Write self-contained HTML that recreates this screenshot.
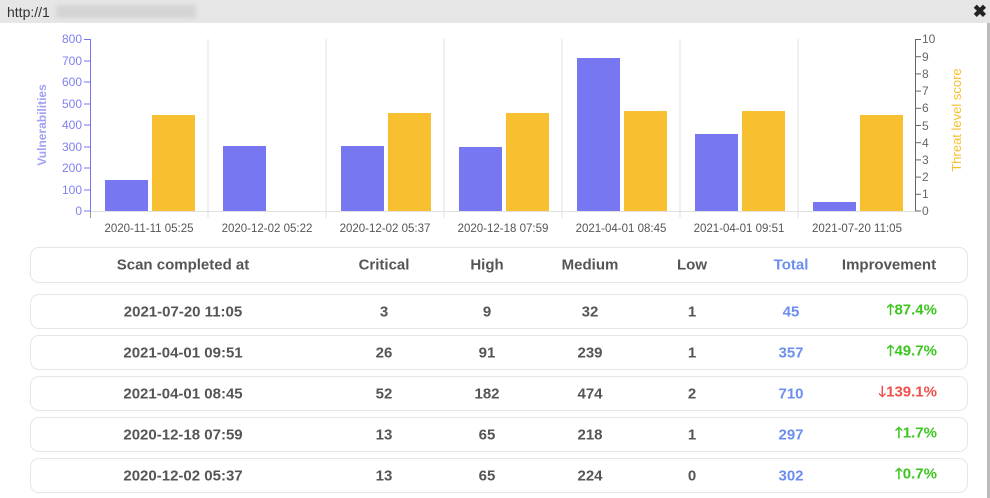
<!DOCTYPE html>
<html><head><meta charset="utf-8"><style>
body{margin:0;width:990px;height:498px;overflow:hidden;background:#fff;font-family:"Liberation Sans",Arial,sans-serif;position:relative}
.bar{position:absolute;left:0;top:0;width:990px;height:23px;background:#e6e6e6}
.url{position:absolute;left:7px;top:4px;font-size:14px;color:#333}
.blur{position:absolute;left:56px;top:5px;width:140px;height:13px;background:#d4d4d4;filter:blur(2px)}
.x{position:absolute;right:3px;top:2px;font-size:17px;font-weight:bold;color:#222}
.edge{position:absolute;right:0;top:23px;width:3px;height:475px;background:#bbb}
.card{position:absolute;left:30px;width:938px;border:1px solid #e6e6e6;border-radius:9px;box-sizing:border-box;font-weight:bold;color:#555;font-size:15px}
.card span{position:absolute;top:50%;transform:translate(-50%,-50%);white-space:nowrap}
.t{color:#6b8ef0}
.g{color:#3cc51e}.r{color:#f0504a}
.imp{transform:translateY(-50%)!important;right:30px;left:auto!important}
</style></head><body>
<div class="bar"><div class="url">http://1</div><div class="blur"></div><div class="x">✖</div></div>
<div class="edge"></div>
<svg style="position:absolute;left:0;top:0" width="990" height="240" font-family="Liberation Sans,Arial,sans-serif" font-size="11">
<g stroke="#e0e0e0"><line x1="208" y1="39" x2="208" y2="218"/><line x1="326" y1="39" x2="326" y2="218"/><line x1="444" y1="39" x2="444" y2="218"/><line x1="562" y1="39" x2="562" y2="218"/><line x1="680" y1="39" x2="680" y2="218"/><line x1="798" y1="39" x2="798" y2="218"/><line x1="90" y1="211.5" x2="915" y2="211.5"/></g>
<line x1="90.5" y1="39" x2="90.5" y2="211" stroke="#7474f0"/>
<line x1="90.5" y1="211" x2="90.5" y2="218" stroke="#999"/>
<line x1="915.5" y1="39" x2="915.5" y2="211" stroke="#666"/>
<g stroke="#7474f0"><line x1="84" x2="90" y1="39.5" y2="39.5"/><line x1="84" x2="90" y1="61" y2="61"/><line x1="84" x2="90" y1="82" y2="82"/><line x1="84" x2="90" y1="104" y2="104"/><line x1="84" x2="90" y1="125" y2="125"/><line x1="84" x2="90" y1="147" y2="147"/><line x1="84" x2="90" y1="168" y2="168"/><line x1="84" x2="90" y1="190" y2="190"/><line x1="84" x2="90" y1="211" y2="211"/></g>
<g fill="#8080f0" text-anchor="end" font-size="12"><text x="82" y="43">800</text><text x="82" y="65">700</text><text x="82" y="86">600</text><text x="82" y="108">500</text><text x="82" y="129">400</text><text x="82" y="151">300</text><text x="82" y="172">200</text><text x="82" y="194">100</text><text x="82" y="215">0</text></g>
<text transform="translate(46,125) rotate(-90)" text-anchor="middle" fill="#a0a0f5" font-size="12" font-weight="bold">Vulnerabilities</text>
<g stroke="#666"><line x1="915" x2="921" y1="39.5" y2="39.5"/><line x1="915" x2="921" y1="56.7" y2="56.7"/><line x1="915" x2="921" y1="73.9" y2="73.9"/><line x1="915" x2="921" y1="91.1" y2="91.1"/><line x1="915" x2="921" y1="108.3" y2="108.3"/><line x1="915" x2="921" y1="125.5" y2="125.5"/><line x1="915" x2="921" y1="142.7" y2="142.7"/><line x1="915" x2="921" y1="159.9" y2="159.9"/><line x1="915" x2="921" y1="177.1" y2="177.1"/><line x1="915" x2="921" y1="194.3" y2="194.3"/><line x1="915" x2="921" y1="211" y2="211"/></g>
<g fill="#666" font-size="12"><text x="922" y="43">10</text><text x="922" y="61">9</text><text x="922" y="78">8</text><text x="922" y="95">7</text><text x="922" y="112">6</text><text x="922" y="130">5</text><text x="922" y="147">4</text><text x="922" y="164">3</text><text x="922" y="181">2</text><text x="922" y="198">1</text><text x="922" y="215">0</text></g>
<text transform="translate(961,120) rotate(-90)" text-anchor="middle" fill="#f8c030" font-size="13">Threat level score</text>
<g fill="#7777f2">
<rect x="105" y="180" width="43" height="31"/><rect x="223" y="146" width="43" height="65"/><rect x="341" y="146" width="43" height="65"/><rect x="459" y="147" width="43" height="64"/><rect x="577" y="58" width="43" height="153"/><rect x="695" y="134" width="43" height="77"/><rect x="813" y="202" width="43" height="9"/></g>
<g fill="#f8c030">
<rect x="152" y="115" width="43" height="96"/><rect x="388" y="113" width="43" height="98"/><rect x="506" y="113" width="43" height="98"/><rect x="624" y="111" width="43" height="100"/><rect x="742" y="111" width="43" height="100"/><rect x="860" y="115" width="43" height="96"/></g>
<g fill="#555" font-size="11.5" text-anchor="middle"><text x="149" y="232">2020-11-11 05:25</text><text x="267" y="232">2020-12-02 05:22</text><text x="385" y="232">2020-12-02 05:37</text><text x="503" y="232">2020-12-18 07:59</text><text x="621" y="232">2021-04-01 08:45</text><text x="739" y="232">2021-04-01 09:51</text><text x="857" y="232">2021-07-20 11:05</text></g>
</svg>
<div class="card" style="top:247px;height:36px"><span style="left:152px">Scan completed at</span><span style="left:353px">Critical</span><span style="left:456px">High</span><span style="left:559px">Medium</span><span style="left:661px">Low</span><span class="t" style="left:760px">Total</span><span style="left:858px">Improvement</span></div>
<div class="card" style="top:294px;height:35px"><span style="left:152px">2021-07-20 11:05</span><span style="left:353px">3</span><span style="left:456px">9</span><span style="left:559px">32</span><span style="left:661px">1</span><span class="t" style="left:760px">45</span><span class="g imp">🡑87.4%</span></div>
<div class="card" style="top:335px;height:35px"><span style="left:152px">2021-04-01 09:51</span><span style="left:353px">26</span><span style="left:456px">91</span><span style="left:559px">239</span><span style="left:661px">1</span><span class="t" style="left:760px">357</span><span class="g imp">🡑49.7%</span></div>
<div class="card" style="top:376px;height:35px"><span style="left:152px">2021-04-01 08:45</span><span style="left:353px">52</span><span style="left:456px">182</span><span style="left:559px">474</span><span style="left:661px">2</span><span class="t" style="left:760px">710</span><span class="r imp">🡓139.1%</span></div>
<div class="card" style="top:417px;height:35px"><span style="left:152px">2020-12-18 07:59</span><span style="left:353px">13</span><span style="left:456px">65</span><span style="left:559px">218</span><span style="left:661px">1</span><span class="t" style="left:760px">297</span><span class="g imp">🡑1.7%</span></div>
<div class="card" style="top:458px;height:35px"><span style="left:152px">2020-12-02 05:37</span><span style="left:353px">13</span><span style="left:456px">65</span><span style="left:559px">224</span><span style="left:661px">0</span><span class="t" style="left:760px">302</span><span class="g imp">🡑0.7%</span></div>
</body></html>
